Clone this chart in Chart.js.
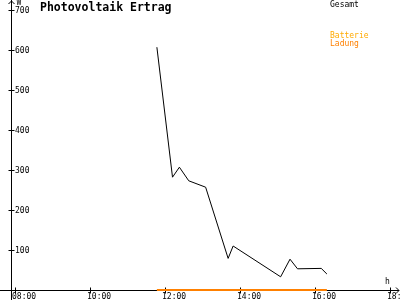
<!DOCTYPE html>
<html>
<head>
<meta charset="utf-8">
<script src="https://cdn.jsdelivr.net/npm/chart.js@4"></script>
<style>
    html, body { margin: 0; padding: 0; background: #fff; }
    #wrap { width: 400px; height: 300px; }
</style>
</head>
<body>
<div id="wrap"><canvas id="pv" width="400" height="300"></canvas></div>
<script>
// Photovoltaik Ertrag – Tagesverlauf

const zeiten = ["11:47", "12:12", "12:23", "12:38", "13:05", "13:41", "13:49", "15:05", "15:20", "15:32", "16:10", "16:19"];
const gesamt = [607, 282, 307, 273, 257, 79, 110, 33, 77, 53, 54, 40];
const batterieLadung = [0, 0, 0, 0, 0, 0, 0, 0, 0, 0, 0, 0];

const xTicks = ["08:00", "10:00", "12:00", "14:00", "16:00", "18:00"];
const yTicks = [100, 200, 300, 400, 500, 600, 700];

const FONT_SMALL = "8px 'DejaVu Sans Mono', monospace";
const FONT_TITLE = "bold 11.5px 'DejaVu Sans Mono', monospace";
const ORANGE = "#ff8000";
const ORANGE_LIGHT = "#ffaa00";

function toHours(s) {
    const [h, m] = String(s).split(":").map(Number);
    return h + (m || 0) / 60;
}

function points(values) {
    return zeiten.map((t, i) => ({ x: toHours(t), y: values[i] }));
}

const axesPlugin = {
    id: "pvAxes",
    beforeDatasetsDraw(chart) {
        const ctx = chart.ctx;
        const xs = chart.scales.x;
        const ys = chart.scales.y;
        const x0 = Math.round(xs.left) + 0.5;
        const y0 = Math.round(ys.getPixelForValue(0)) + 0.5;

        ctx.save();
        ctx.strokeStyle = "#000";
        ctx.fillStyle = "#000";
        ctx.lineWidth = 1;

        // axis lines
        ctx.beginPath();
        ctx.moveTo(0, y0);
        ctx.lineTo(chart.width - 1, y0);
        ctx.moveTo(x0, 0);
        ctx.lineTo(x0, chart.height);
        // arrow heads
        ctx.moveTo(x0 - 3, 4);
        ctx.lineTo(x0, 1);
        ctx.lineTo(x0 + 3, 4);
        ctx.moveTo(chart.width - 4, y0 - 3);
        ctx.lineTo(chart.width - 1, y0);
        ctx.lineTo(chart.width - 4, y0 + 3);
        ctx.stroke();

        ctx.font = FONT_SMALL;
        ctx.textBaseline = "middle";
        ctx.textAlign = "left";

        // y ticks, labels right of the axis
        for (const v of yTicks) {
            const py = Math.round(ys.getPixelForValue(v)) + 0.5;
            ctx.beginPath();
            ctx.moveTo(x0 - 3, py);
            ctx.lineTo(x0 + 3, py);
            ctx.stroke();
            ctx.fillText(String(v), x0 + 3.5, py + 0.5);
        }

        // x ticks
        for (const t of xTicks) {
            const px = Math.round(xs.getPixelForValue(toHours(t))) + 0.5;
            ctx.beginPath();
            ctx.moveTo(px, y0 - 3);
            ctx.lineTo(px, y0 + 3);
            ctx.stroke();
            ctx.fillText(t, px - 3.5, y0 + 6.5);
        }

        // unit labels
        ctx.fillText("W", x0 + 5, 3);
        ctx.fillText("h", 385, y0 - 9);
        ctx.restore();
    },
    afterDraw(chart) {
        const ctx = chart.ctx;
        ctx.save();
        ctx.textAlign = "left";
        ctx.textBaseline = "alphabetic";
        ctx.fillStyle = "#000";
        ctx.font = FONT_TITLE;
        ctx.fillText("Photovoltaik Ertrag", 40, 10.5);

        ctx.font = FONT_SMALL;
        ctx.textBaseline = "middle";
        ctx.fillText("Gesamt", 330, 4.5);
        ctx.fillStyle = ORANGE_LIGHT;
        ctx.fillText("Batterie", 330, 36);
        ctx.fillStyle = ORANGE;
        ctx.fillText("Ladung", 330, 44);
        ctx.restore();
    }
};

new Chart(document.getElementById("pv"), {
    type: "line",
    data: {
        datasets: [
            {
                label: "Gesamt",
                data: points(gesamt),
                borderColor: "#000",
                borderWidth: 1,
                pointRadius: 0,
                tension: 0,
                clip: false
            },
            {
                label: "Batterie Ladung",
                data: points(batterieLadung),
                borderColor: ORANGE,
                borderWidth: 2,
                pointRadius: 0,
                tension: 0,
                clip: false
            }
        ]
    },
    options: {
        responsive: false,
        animation: false,
        layout: { padding: { left: 11, right: 0, top: 10, bottom: 10 } },
        plugins: { legend: { display: false }, tooltip: { enabled: false } },
        scales: {
            x: { type: "linear", display: false, min: 8 - 4 / 37.5, max: 8 + 385 / 37.5 },
            y: { display: false, min: 0, max: 700 }
        }
    },
    plugins: [axesPlugin]
});
</script>
</body>
</html>
